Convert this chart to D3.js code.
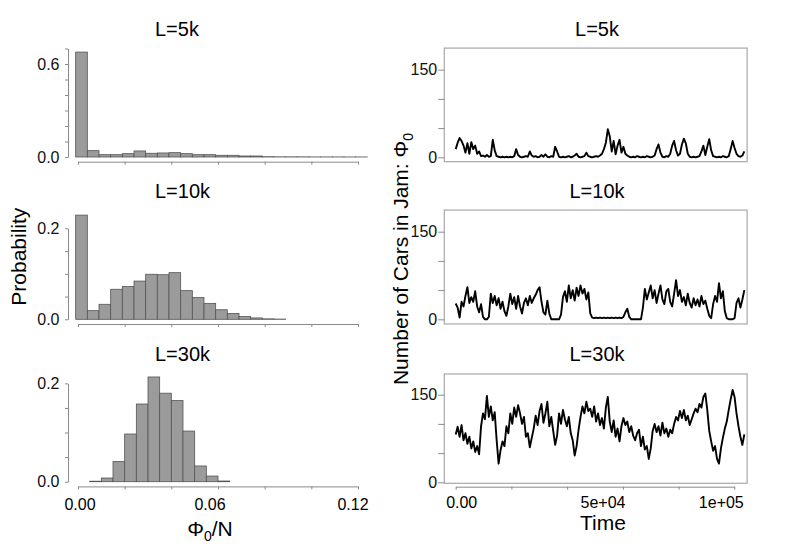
<!DOCTYPE html>
<html>
<head>
<meta charset="utf-8">
<script src="https://cdnjs.cloudflare.com/ajax/libs/d3/7.8.5/d3.min.js"></script>
<style>
  body { margin: 0; background: #fff; }
  svg { display: block; font-family: "Liberation Sans", Arial, sans-serif; }
  .axis path, .axis line { stroke: #8a8a8a; fill: none; }
  .axis text { fill: #111; font-size: 16px; font-family: "Liberation Sans", Arial, sans-serif; }
</style>
</head>
<body>
<svg id="chart" width="789" height="546"></svg>
<script>
var titles = ['L=5k', 'L=10k', 'L=30k'];

// histograms of Phi0/N, bins of width 0.005
var binWidth = 0.005;
var binStarts = [-0.001, -0.001, 0.005];
var prob5k = [0.677, 0.041, 0.015, 0.015, 0.0215, 0.039, 0.024, 0.026, 0.028, 0.0215,
  0.015, 0.015, 0.011, 0.011, 0.0065, 0.0065, 0.002, 0.001, 0.001, 0.001,
  0.0005, 0.0005, 0.0005, 0.0003, 0.0003];
var prob10k = [0.229, 0.019, 0.033, 0.066, 0.072, 0.084, 0.099, 0.098, 0.1025, 0.063,
  0.048, 0.035, 0.021, 0.013, 0.006, 0.003, 0.001, 0.0005];
var prob30k = [0.001, 0.0075, 0.041, 0.097, 0.158, 0.213, 0.180, 0.165, 0.103, 0.032,
  0.0115, 0.0014];
var phiTicks = [0, 0.06, 0.12];

// number of cars in jam, sampled every timeStep
var timeStep = 700;
var jam5k = [14, 25, 33, 28, 20, 8, 24, 6, 26, 14,
  20, 6, 10, 2, 3, 1, 4, 1, 2, 30,
  12, 2, 1, 0, 1, 0, 1, 0, 1, 0,
  2, 14, 4, 1, 0, 1, 2, 1, 10, 3,
  1, 2, 0, 1, 4, 1, 5, 1, 0, 2,
  1, 18, 10, 1, 0, 1, 0, 1, 2, 0,
  1, 3, 6, 1, 0, 1, 2, 8, 2, 1,
  0, 1, 2, 1, 3, 6, 14, 25, 48, 36,
  10, 28, 5, 20, 30, 8, 18, 6, 3, 1,
  0, 1, 0, 2, 1, 0, 1, 0, 2, 1,
  0, 1, 3, 14, 22, 8, 1, 0, 2, 1,
  6, 20, 28, 12, 3, 6, 22, 32, 24, 6,
  1, 0, 1, 0, 1, 2, 10, 20, 4, 18,
  31, 12, 2, 1, 0, 1, 0, 2, 1, 0,
  2, 14, 28, 16, 6, 2, 1, 3, 10];
var jam10k = [27, 20, 3, 30, 22, 40, 55, 28, 38, 30,
  48, 22, 12, 26, 4, 0, 0, 4, 44, 28,
  40, 24, 36, 18, 30, 14, 6, 22, 44, 26,
  38, 18, 40, 22, 10, 28, 36, 24, 40, 28,
  36, 42, 50, 55, 30, 12, 8, 32, 10, 0,
  0, 0, 0, 0, 8, 38, 48, 30, 58, 36,
  50, 32, 54, 40, 58, 44, 52, 34, 46, 10,
  3, 2, 3, 2, 3, 2, 3, 2, 3, 2,
  3, 2, 3, 2, 3, 2, 4, 12, 18, 4,
  0, 0, 0, 0, 0, 0, 20, 52, 34, 46,
  58, 36, 50, 28, 44, 58, 34, 26, 48, 52,
  30, 22, 44, 67, 40, 50, 30, 38, 24, 44,
  28, 20, 36, 24, 34, 22, 40, 26, 32, 18,
  6, 2, 26, 40, 30, 62, 36, 48, 14, 2,
  0, 0, 0, 2, 28, 36, 20, 34, 50];
var jam30k = [82, 95, 78, 98, 72, 84, 66, 78, 58, 70,
  52, 62, 48, 96, 118, 108, 148, 112, 130, 106,
  120, 72, 32, 55, 70, 62, 96, 84, 118, 100,
  128, 112, 132, 118, 100, 112, 78, 84, 60, 76,
  92, 114, 98, 122, 134, 102, 118, 138, 96, 112,
  88, 64, 80, 118, 100, 124, 108, 96, 112, 84,
  72, 46, 62, 90, 112, 130, 118, 138, 122, 126,
  112, 130, 104, 118, 98, 110, 92, 128, 146, 104,
  86, 106, 78, 92, 70, 96, 110, 98, 104, 86,
  96, 80, 72, 84, 90, 62, 78, 56, 62, 40,
  58, 88, 100, 86, 96, 80, 102, 84, 92, 78,
  90, 84, 100, 112, 106, 122, 110, 124, 106, 114,
  98, 108, 118, 126, 120, 134, 128, 146, 152, 124,
  88, 70, 54, 62, 40, 32, 58, 76, 92, 104,
  124, 142, 158, 146, 118, 96, 78, 64, 82];
var timeTicks = [0, 50000, 100000];
var timeTickLabels = ['0.00', '5e+04', '1e+05'];

var svg = d3.select('#chart');
var rowStep = 162.5;

// ---- left column: histograms ----
var xHist = d3.scaleLinear().domain([0, 0.12]).range([78, 358]);

var histPanels = [
  { data: prob5k, start: binStarts[0], base: 157, px: 155, axisMax: 0.7, step: 0.1, labels: [0, 0.6] },
  { data: prob10k, start: binStarts[1], base: 319.3, px: 455, axisMax: 0.2, step: 0.05, labels: [0, 0.2] },
  { data: prob30k, start: binStarts[2], base: 481.7, px: 491.7, axisMax: 0.2, step: 0.05, labels: [0, 0.2] }
];

histPanels.forEach(function(p, i) {
  var y = d3.scaleLinear().domain([0, p.axisMax]).range([p.base, p.base - p.axisMax * p.px]);
  var g = svg.append('g').classed('hist', true);

  g.selectAll('rect')
    .data(p.data)
    .enter().append('rect')
    .attr('x', function(d, k) { return xHist(p.start + k * binWidth); })
    .attr('width', xHist(binWidth) - xHist(0))
    .attr('y', function(d) { return y(d); })
    .attr('height', function(d) { return y(0) - y(d); })
    .attr('fill', '#9b9b9b')
    .attr('stroke', '#555')
    .attr('stroke-width', 0.8);

  var yAxis = d3.axisLeft(y)
    .tickValues(d3.range(0, p.axisMax + 1e-9, p.step))
    .tickSize(3)
    .tickSizeOuter(0)
    .tickPadding(5.5)
    .tickFormat(function(d) {
      var hit = p.labels.some(function(l) { return Math.abs(l - d) < 1e-9; });
      return hit ? d3.format('.1f')(d) : '';
    });
  g.append('g').attr('class', 'axis').attr('transform', 'translate(68,0)').call(yAxis);

  var xAxis = d3.axisBottom(xHist)
    .tickValues(d3.range(0, 0.12 + 1e-9, 0.02))
    .tickSize(3)
    .tickSizeOuter(0)
    .tickFormat('');
  g.append('g').attr('class', 'axis').attr('transform', 'translate(0,' + (p.base + 4.7) + ')').call(xAxis);

  svg.append('text')
    .attr('x', 155)
    .attr('y', 35.7 + i * rowStep)
    .attr('font-size', 20)
    .text(titles[i]);
});

// tick labels under the last histogram (placed as in the original figure)
var phiShift = [2, -8, -5];
svg.selectAll('text.phiLabel')
  .data(phiTicks)
  .enter().append('text')
  .attr('class', 'phiLabel')
  .attr('x', function(d, k) { return xHist(d) + phiShift[k]; })
  .attr('y', 510)
  .attr('text-anchor', 'middle')
  .attr('font-size', 16)
  .text(function(d) { return d3.format('.2f')(d); });

var phiTitle = svg.append('text')
  .attr('x', 210)
  .attr('y', 535.5)
  .attr('text-anchor', 'middle')
  .attr('font-size', 21);
phiTitle.append('tspan').text('\u03A6');
phiTitle.append('tspan').attr('font-size', 14).attr('dy', 5).text('0');
phiTitle.append('tspan').attr('dy', -5).text('/N');

svg.append('text')
  .attr('transform', 'translate(26,256.7) rotate(-90)')
  .attr('text-anchor', 'middle')
  .attr('font-size', 21)
  .text('Probability');

// ---- right column: jam size over time ----
var xTime = d3.scaleLinear().domain([0, 1e5]).range([455.7, 734.3]);
var boxLeft = xTime(-4100);
var boxRight = xTime(104600);

var jamPanels = [
  { data: jam5k, base: 157.3, boxTop: 187, boxBottom: -7.5 },
  { data: jam10k, base: 319.3, boxTop: 187, boxBottom: -8 },
  { data: jam30k, base: 482.3, boxTop: 185.5, boxBottom: -1.7 }
];

jamPanels.forEach(function(p, i) {
  var y = d3.scaleLinear().domain([0, 150]).range([p.base, p.base - 87.6]);
  var g = svg.append('g').classed('jam', true);

  g.append('rect')
    .attr('x', boxLeft)
    .attr('y', y(p.boxTop))
    .attr('width', boxRight - boxLeft)
    .attr('height', y(p.boxBottom) - y(p.boxTop))
    .attr('fill', 'none')
    .attr('stroke', '#a8a8a8')
    .attr('stroke-width', 1.2);

  var line = d3.line()
    .x(function(d, k) { return xTime(k * timeStep); })
    .y(function(d) { return y(d); });

  g.append('path')
    .datum(p.data)
    .attr('d', line)
    .attr('fill', 'none')
    .attr('stroke', '#000')
    .attr('stroke-width', 1.9)
    .attr('stroke-linejoin', 'round');

  var yAxis = d3.axisLeft(y)
    .tickValues([0, 50, 100, 150])
    .tickSize(6)
    .tickPadding(1)
    .tickFormat(function(d) { return (d === 0 || d === 150) ? d : ''; });
  var ya = g.append('g').attr('class', 'axis').attr('transform', 'translate(' + boxLeft + ',0)').call(yAxis);
  ya.select('.domain').remove();

  svg.append('text')
    .attr('x', 597)
    .attr('y', 35.7 + i * rowStep)
    .attr('text-anchor', 'middle')
    .attr('font-size', 20)
    .text(titles[i]);
});

var timeAxis = d3.axisBottom(xTime)
  .tickValues(d3.range(0, 1e5 + 1, 2e4))
  .tickSize(3)
  .tickSizeOuter(0)
  .tickFormat('');
svg.append('g').attr('class', 'axis').attr('transform', 'translate(0,486.7)').call(timeAxis);

var timeShift = [6, 8, -13];
svg.selectAll('text.timeLabel')
  .data(timeTicks)
  .enter().append('text')
  .attr('class', 'timeLabel')
  .attr('x', function(d, k) { return xTime(d) + timeShift[k]; })
  .attr('y', 508.3)
  .attr('text-anchor', 'middle')
  .attr('font-size', 16)
  .text(function(d, k) { return timeTickLabels[k]; });

svg.append('text')
  .attr('x', 603)
  .attr('y', 530)
  .attr('text-anchor', 'middle')
  .attr('font-size', 21)
  .text('Time');

var jamTitle = svg.append('text')
  .attr('transform', 'translate(408,259) rotate(-90)')
  .attr('text-anchor', 'middle')
  .attr('font-size', 21);
jamTitle.append('tspan').text('Number of Cars in Jam: \u03A6');
jamTitle.append('tspan').attr('font-size', 14).attr('dy', 5).text('0');
</script>
</body>
</html>
